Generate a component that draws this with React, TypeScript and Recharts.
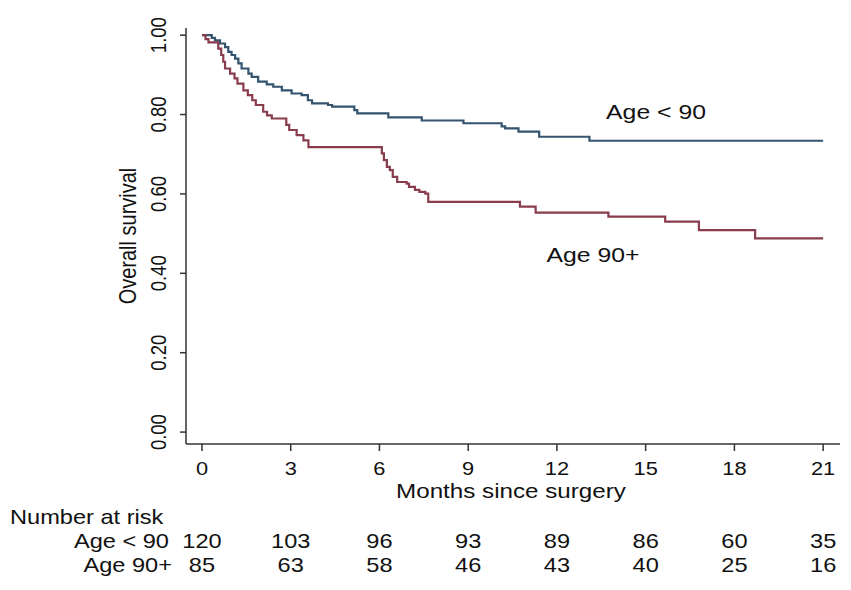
import { LineChart, Line, XAxis, YAxis, ReferenceDot } from 'recharts';

// Kaplan-Meier steps: month of each drop and survival after it
const youngMonths = [0, 0.33, 0.44, 0.61, 0.78, 0.89, 1.0, 1.12, 1.23, 1.34, 1.57, 1.68, 1.9, 2.19, 2.41, 2.7, 3.03, 3.37, 3.58, 3.72, 4.26, 4.4, 5.15, 5.25, 6.3, 7.43, 8.84, 10.13, 10.25, 10.7, 11.4, 13.1, 21];
const youngSurvival = [1, 0.993, 0.987, 0.979, 0.97, 0.958, 0.95, 0.941, 0.929, 0.916, 0.903, 0.895, 0.883, 0.876, 0.87, 0.861, 0.853, 0.849, 0.836, 0.828, 0.824, 0.82, 0.811, 0.803, 0.793, 0.785, 0.778, 0.77, 0.765, 0.757, 0.744, 0.734, 0.734];

const oldMonths = [0, 0.12, 0.22, 0.55, 0.65, 0.72, 0.78, 0.95, 1.1, 1.2, 1.4, 1.55, 1.7, 1.82, 2.07, 2.2, 2.36, 2.85, 2.95, 3.2, 3.43, 3.6, 6.08, 6.15, 6.25, 6.35, 6.45, 6.6, 6.92, 7.0, 7.2, 7.35, 7.55, 7.65, 10.75, 11.28, 13.74, 15.66, 16.8, 18.7, 21];
const oldSurvival = [1, 0.99, 0.982, 0.966, 0.95, 0.933, 0.916, 0.903, 0.891, 0.878, 0.861, 0.849, 0.836, 0.824, 0.807, 0.798, 0.79, 0.774, 0.761, 0.748, 0.735, 0.718, 0.702, 0.685, 0.668, 0.66, 0.643, 0.63, 0.626, 0.618, 0.61, 0.605, 0.601, 0.58, 0.568, 0.553, 0.543, 0.53, 0.509, 0.488, 0.488];

const monthTicks = [0, 3, 6, 9, 12, 15, 18, 21];
const survivalTicks = [0, 0.2, 0.4, 0.6, 0.8, 1];
const atRiskYoung = [120, 103, 96, 93, 89, 86, 60, 35];
const atRiskOld = [85, 63, 58, 46, 43, 40, 25, 16];

const youngData = youngMonths.map((t, i) => ({ t, s: youngSurvival[i] }));
const oldData = oldMonths.map((t, i) => ({ t, s: oldSurvival[i] }));

const font = 'Liberation Sans, Arial, sans-serif';
const ink = '#111';
const axisColor = '#333';

// the picture is a little wider than tall, so stretch the text sideways
const wide = (origin: string) => ({
  transform: 'scaleX(1.18)',
  transformBox: 'fill-box' as const,
  transformOrigin: origin,
});

function MonthTick({ x, payload }: any) {
  const i = monthTicks.indexOf(payload.value);
  const common = { x, textAnchor: 'middle' as const, dominantBaseline: 'central' as const, fontFamily: font, fill: ink, style: wide('center') };
  return (
    <g>
      <text {...common} y={468.5} fontSize={18.5}>{payload.value}</text>
      <text {...common} y={541.5} fontSize={20}>{atRiskYoung[i]}</text>
      <text {...common} y={565} fontSize={20}>{atRiskOld[i]}</text>
    </g>
  );
}

function SurvivalTick({ y, payload }: any) {
  return (
    <text
      x={158}
      y={y}
      textAnchor="middle"
      dominantBaseline="central"
      fontFamily={font}
      fontSize={18.5}
      fill={ink}
      style={{ transform: 'rotate(-90deg) scaleY(1.18)', transformBox: 'fill-box', transformOrigin: 'center' }}
    >
      {Number(payload.value).toFixed(2)}
    </text>
  );
}

function BottomNotes() {
  return (
    <g fontFamily={font} fill={ink}>
      <text x={511} y={491.5} textAnchor="middle" dominantBaseline="central" fontSize={20.5} style={wide('center')}>
        Months since surgery
      </text>
      <text x={10} y={517} dominantBaseline="central" fontSize={20} style={wide('left center')}>
        Number at risk
      </text>
      <text x={169} y={541.5} textAnchor="end" dominantBaseline="central" fontSize={20} style={wide('right center')}>
        {'Age < 90'}
      </text>
      <text x={172} y={565} textAnchor="end" dominantBaseline="central" fontSize={20} style={wide('right center')}>
        Age 90+
      </text>
      <text
        x={128}
        y={236}
        textAnchor="middle"
        dominantBaseline="central"
        fontSize={20}
        style={{ transform: 'rotate(-90deg) scaleY(1.18)', transformBox: 'fill-box', transformOrigin: 'center' }}
      >
        Overall survival
      </text>
    </g>
  );
}

const curveLabel = (text: string) => (p: any) => (
  <text x={p.cx} y={p.cy} textAnchor="middle" dominantBaseline="central" fontFamily={font} fontSize={21} fill={ink} style={wide('center')}>
    {text}
  </text>
);

export default function App() {
  return (
    <div style={{ position: 'absolute', left: 0, top: 0, background: '#fff' }}>
      <LineChart width={851} height={590} margin={{ top: 28, right: 11, bottom: 0, left: 0 }}>
        <XAxis
          dataKey="t"
          type="number"
          domain={[-0.54, 21.57]}
          allowDataOverflow
          ticks={monthTicks}
          interval={0}
          height={146}
          tickSize={7}
          axisLine={{ stroke: axisColor, strokeWidth: 1.5 }}
          tickLine={{ stroke: axisColor, strokeWidth: 1.5 }}
          tick={<MonthTick />}
          label={<BottomNotes />}
        />
        <YAxis
          type="number"
          domain={[-0.03, 1.018]}
          allowDataOverflow
          ticks={survivalTicks}
          interval={0}
          width={186}
          tickSize={6}
          axisLine={{ stroke: axisColor, strokeWidth: 1.5 }}
          tickLine={{ stroke: axisColor, strokeWidth: 1.5 }}
          tick={<SurvivalTick />}
        />
        <Line
          data={youngData}
          dataKey="s"
          type="stepAfter"
          stroke="#33536f"
          strokeWidth={2.2}
          dot={false}
          isAnimationActive={false}
        />
        <Line
          data={oldData}
          dataKey="s"
          type="stepAfter"
          stroke="#883c4c"
          strokeWidth={2.2}
          dot={false}
          isAnimationActive={false}
        />
        <ReferenceDot x={15.35} y={0.807} r={1} shape={curveLabel('Age < 90')} />
        <ReferenceDot x={13.22} y={0.448} r={1} shape={curveLabel('Age 90+')} />
      </LineChart>
    </div>
  );
}
